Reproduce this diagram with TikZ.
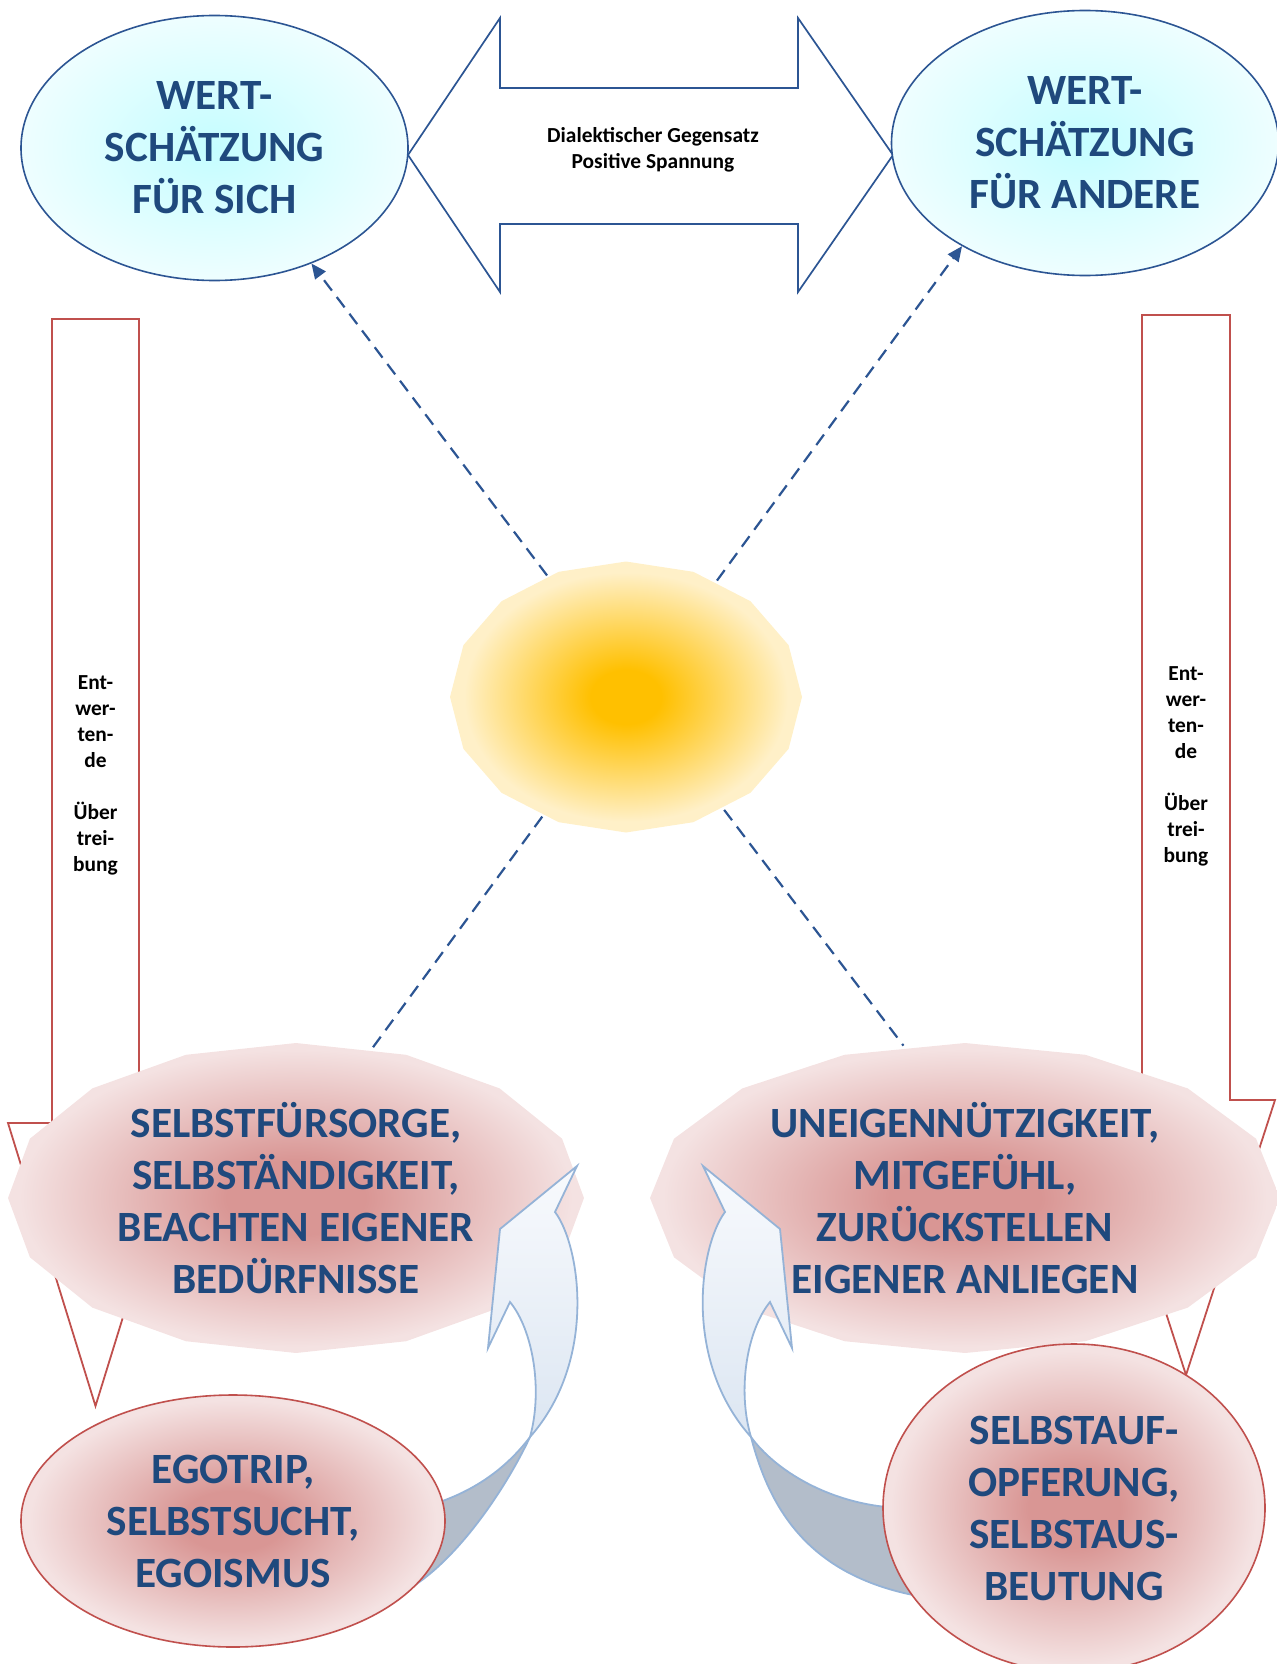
\documentclass[tikz,border=0pt]{standalone}
\usepackage{fontspec}
\setmainfont{Carlito}
\usetikzlibrary{shapes.geometric,arrows.meta}

\definecolor{textblue}{HTML}{1F497D}
\definecolor{lineblue}{HTML}{2C5593}
\definecolor{arrowred}{HTML}{C0504D}
\definecolor{bandedge}{HTML}{95B3D7}
\definecolor{bandtop}{HTML}{F8FAFD}
\definecolor{bandbottom}{HTML}{DCE6F2}
\definecolor{bandback}{HTML}{B3BDCA}
\definecolor{cyancore}{HTML}{C4FDFF}
\definecolor{cyanrim}{HTML}{F0FEFF}
\definecolor{rosecore}{HTML}{D99694}
\definecolor{roserim}{HTML}{F4E2E2}
\definecolor{goldcore}{HTML}{FFC000}
\definecolor{goldrim}{HTML}{FFF0C8}

\pgfdeclareradialshading{cyanglow}{\pgfpoint{0bp}{0bp}}{color(0bp)=(cyancore); color(26bp)=(cyanrim); color(50bp)=(cyanrim)}
\pgfdeclareradialshading{roseglow}{\pgfpoint{0bp}{0bp}}{color(0bp)=(rosecore); color(6bp)=(rosecore); color(24bp)=(roserim); color(50bp)=(roserim)}
\pgfdeclareradialshading{goldglow}{\pgfpoint{0bp}{0bp}}{color(0bp)=(goldcore); color(5bp)=(goldcore); color(23bp)=(goldrim); color(50bp)=(goldrim)}

\begin{document}
\begin{tikzpicture}[x=0.5pt,y=-0.5pt,
  bigtext/.style={font=\fontsize{21.6}{26}\selectfont\bfseries,text=textblue,align=center},
  smalltext/.style={font=\fontsize{10.7}{13}\selectfont\bfseries,align=center},
  topoval/.style={ellipse,draw=lineblue,line width=0.8pt,shade,shading=cyanglow,minimum width=193.5pt,minimum height=132.5pt,inner sep=0pt,bigtext},
  lowoval/.style={ellipse,draw=arrowred,line width=0.8pt,shade,shading=roseglow,inner sep=0pt,bigtext},
  glowcloud/.style={ellipse,inner sep=0pt,bigtext},
  downarrow/.style={draw=arrowred,fill=white,line width=0.9pt},
  dasharrow/.style={draw=lineblue,line width=1.1pt,dash pattern=on 6.5pt off 4pt},
  band/.style={draw=bandedge,line width=0.9pt,top color=bandtop,bottom color=bandbottom},
  bandrear/.style={draw=bandedge,line width=0.9pt,fill=bandback}]
\useasboundingbox (0,0) rectangle (1277,1664);

% Uebertreibung arrows
\path[downarrow] (52,319) -- (139,319) -- (139,1123) -- (183,1123) -- (95.5,1406) -- (8,1123) -- (52,1123) -- cycle;
\path[downarrow] (1142,315) -- (1230,315) -- (1230,1100) -- (1275,1100) -- (1186,1375) -- (1097,1100) -- (1142,1100) -- cycle;
\node[smalltext] (ltxt) at (95.5,775) {Ent-\\wer-\\ten-\\de\\[13pt]Über\\trei-\\bung};
\node[smalltext] (rtxt) at (1186,766) {Ent-\\wer-\\ten-\\de\\[13pt]Über\\trei-\\bung};

% Gegensatz
\path[draw=lineblue,fill=white,line width=0.85pt] (408,155) -- (500,18) -- (500,88) -- (798,88) -- (798,18) -- (893,155)
  -- (798,292) -- (798,224) -- (500,224) -- (500,292) -- cycle;
\node[smalltext] (gegensatz) at (653,150) {Dialektischer Gegensatz\\Positive Spannung};

\node[topoval] (selfw) at (214.5,148) {WERT-\\SCHÄTZUNG\\FÜR SICH};
\node[topoval] (otherw) at (1085,143) {WERT-\\SCHÄTZUNG\\FÜR ANDERE};

% centre
\shade[shading=goldglow] plot[samples=17,domain=0:360] ({626+176*cos(\x)},{697+135.5*sin(\x)}) -- cycle;
\node[glowcloud,minimum width=176pt,minimum height=135.5pt] (sun) at (626,697) {};

\shade[shading=roseglow] plot[samples=17,domain=0:360] ({296+288*cos(\x)},{1198+155*sin(\x)}) -- cycle;
\node[glowcloud,minimum width=288pt,minimum height=155pt] (selfcare) at (296,1198) {SELBSTFÜRSORGE,\\SELBSTÄNDIGKEIT,\\BEACHTEN EIGENER\\BEDÜRFNISSE};
\shade[shading=roseglow] plot[samples=17,domain=0:360] ({965+315*cos(\x)},{1198+155*sin(\x)}) -- cycle;
\node[glowcloud,minimum width=315pt,minimum height=155pt] (altruism) at (965,1198) {UNEIGENNÜTZIGKEIT,\\MITGEFÜHL,\\ZURÜCKSTELLEN\\EIGENER ANLIEGEN};

\draw[dasharrow,-{Triangle[length=7.5pt,width=6.5pt]}] (sun.123) -- (selfw.310);
\draw[dasharrow,-{Triangle[length=7.5pt,width=6.5pt]}] (sun.52) -- (otherw.220);
\draw[dasharrow] (sun.235) -- (selfcare.63);
\draw[dasharrow] (sun.311) -- (altruism.112);

% curved arrows
\path[bandrear] (530,1437) .. controls (505,1470) and (470,1495) .. (420,1508) -- (380,1540) -- (415,1585)
  .. controls (460,1555) and (505,1490) .. (530,1437) -- cycle;
\path[band] (577,1166) -- (500,1229) -- (488,1348) -- (510,1302)
  .. controls (533,1330) and (543,1390) .. (530,1437)
  .. controls (598,1360) and (580,1245) .. (555,1212) -- cycle;
\path[bandrear] (751,1437) .. controls (775,1470) and (830,1505) .. (900,1508) -- (930,1550) -- (930,1598)
  .. controls (810,1580) and (770,1510) .. (751,1437) -- cycle;
\path[band] (703,1166) -- (780,1229) -- (792,1348) -- (770,1302)
  .. controls (747,1330) and (737,1390) .. (751,1437)
  .. controls (682,1360) and (700,1245) .. (725,1212) -- cycle;

\node[lowoval,minimum width=212pt,minimum height=126pt] (ego) at (233,1521) {EGOTRIP,\\SELBSTSUCHT,\\EGOISMUS};
\node[lowoval,minimum width=191pt,minimum height=164pt] (sacrifice) at (1074,1508) {SELBSTAUF-\\OPFERUNG,\\SELBSTAUS-\\BEUTUNG};
\end{tikzpicture}
\end{document}
